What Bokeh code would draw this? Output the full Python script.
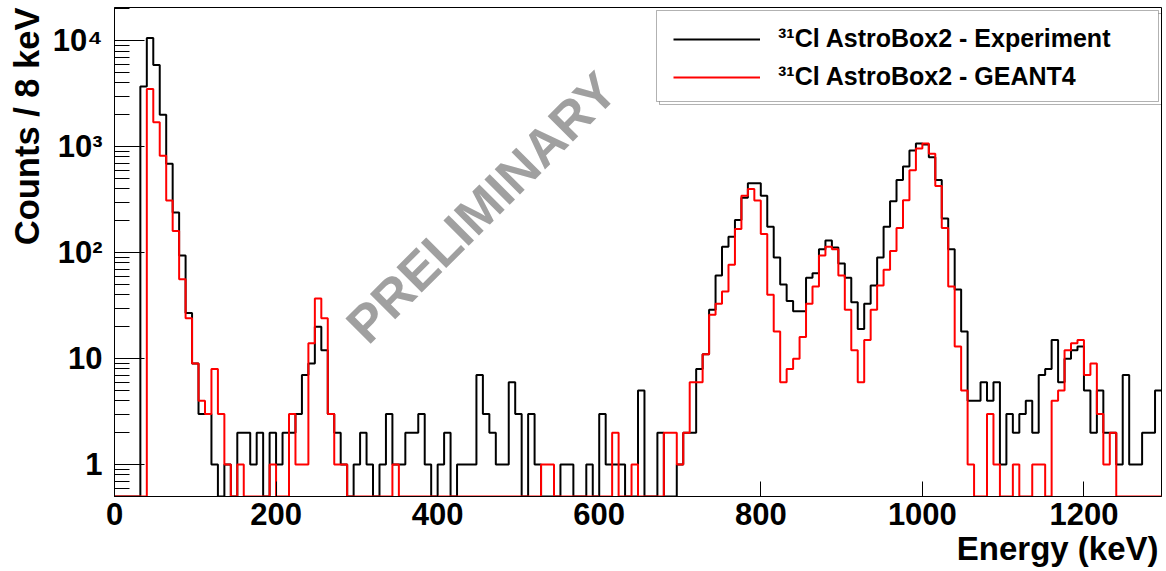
import numpy as np
from bokeh.plotting import figure
from bokeh.models import (FixedTicker, Label, Legend, LegendItem, BoxAnnotation, Range1d, Title)
from bokeh.embed import file_html
from bokeh.resources import INLINE

# ---------------- data ----------------
BIN_WIDTH = 8  # keV
X_MIN, X_MAX = 0, 1296
energy_edges = np.arange(X_MIN, X_MAX + BIN_WIDTH, BIN_WIDTH)

experiment = [0, 0, 0, 0, 3700, 10600, 5900, 2000, 690, 240,
              94, 27, 9, 3, 3, 1, 0, 1, 0, 2,
              2, 1, 2, 0, 2, 1, 2, 2, 3, 7,
              9, 20, 12, 3, 2, 1, 0, 1, 2, 1,
              0, 1, 3, 1, 1, 2, 2, 3, 1, 0,
              1, 2, 0, 1, 1, 1, 7, 3, 2, 1,
              1, 6, 3, 0, 3, 1, 0, 0, 0, 1,
              1, 0, 0, 1, 0, 3, 1, 1, 1, 0,
              0, 5, 0, 0, 2, 0, 0, 1, 2, 2,
              8, 11, 29, 61, 114, 141, 203, 330, 451, 451,
              345, 176, 90, 50, 35, 28, 28, 58, 64, 108,
              130, 112, 79, 58, 34, 19, 33, 49, 90, 176,
              305, 485, 650, 920, 1070, 1050, 795, 485, 210, 108,
              45, 18, 4, 4, 6, 4, 6, 1, 3, 2,
              3, 4, 2, 7, 8, 15, 6, 10, 12, 13,
              5, 2, 5, 2, 2, 1, 7, 1, 1, 2,
              2, 5]

geant4 = [0, 0, 0, 0, 0, 3500, 1700, 820, 310, 160,
          56, 24, 9, 4, 3, 8, 3, 1, 0, 1,
          0, 0, 0, 0, 1, 0, 0, 3, 1, 1,
          14, 37, 24, 3, 1, 1, 0, 0, 0, 0,
          0, 0, 0, 1, 0, 0, 0, 0, 0, 0,
          0, 0, 0, 0, 0, 0, 0, 0, 0, 0,
          0, 0, 0, 0, 0, 0, 1, 1, 0, 0,
          0, 0, 0, 0, 0, 0, 0, 2, 0, 0,
          1, 0, 0, 0, 0, 2, 2, 1, 2, 6,
          6, 11, 26, 33, 43, 77, 167, 345, 398, 310,
          150, 40, 18, 6, 8, 10, 16, 33, 48, 94,
          114, 108, 61, 29, 12, 6, 15, 29, 49, 69,
          104, 171, 312, 600, 960, 1075, 860, 425, 171, 48,
          13, 5, 1, 0, 0, 3, 1, 0, 0, 1,
          0, 0, 1, 1, 0, 4, 5, 12, 14, 15,
          7, 9, 3, 1, 2, 0, 0, 0, 0, 0,
          0, 0]

x_ticks = [0, 200, 400, 600, 800, 1000, 1200]
y_ticks = [1, 10, 100, 1000, 10000]
y_tick_labels = ["1", "10", "10\u00b2", "10\u00b3", "10\u2074"]

series_labels = ["\u00b3\u00b9Cl AstroBox2 - Experiment", "\u00b3\u00b9Cl AstroBox2 - GEANT4"]
x_title = "Energy (keV)"
y_title = "Counts / 8 keV"
watermark = "PRELIMINARY"

# ---------------- layout ----------------
Y_MIN, Y_MAX = 0.5, 2.06e4
W, H = 1166, 571
FRAME_L, FRAME_R, FRAME_T, FRAME_B = 114, 1161, 7, 496
FONT = "Liberation Sans"


def px_to_x(px):
    return X_MIN + (px - FRAME_L) / (FRAME_R - FRAME_L) * (X_MAX - X_MIN)


def py_to_y(py):
    lo, hi = np.log10(Y_MIN), np.log10(Y_MAX)
    return 10 ** (lo + (FRAME_B - py) / (FRAME_B - FRAME_T) * (hi - lo))


p = figure(width=W, height=H,
           x_range=Range1d(X_MIN, X_MAX), y_range=Range1d(Y_MIN, Y_MAX),
           y_axis_type="log", output_backend="svg", toolbar_location=None,
           min_border_left=FRAME_L, min_border_right=W - FRAME_R,
           min_border_top=FRAME_T, min_border_bottom=H - FRAME_B,
           background_fill_color="white", border_fill_color="white")
p.grid.visible = False
p.outline_line_color = "black"
p.outline_line_width = 1


def step_values(vals):
    v = np.array(vals, dtype=float)
    v[v <= 0] = Y_MIN  # empty bins drawn on the frame floor
    return np.append(v, v[-1])


r_exp = p.step(x=energy_edges, y=step_values(experiment), mode="after",
               line_color="black", line_width=2)
r_g4 = p.step(x=energy_edges, y=step_values(geant4), mode="after",
              line_color="#ff0000", line_width=2)

# axes
xa = p.xaxis[0]
xa.ticker = FixedTicker(ticks=x_ticks, minor_ticks=[])
xa.major_tick_in = 15
xa.major_tick_out = 0
xa.minor_tick_in = 0
xa.minor_tick_out = 0
xa.axis_line_color = "black"
xa.major_tick_line_color = "black"
xa.major_label_text_font = FONT
xa.major_label_text_font_style = "bold"
xa.major_label_text_font_size = "31px"
xa.major_label_text_color = "black"
xa.major_label_standoff = 6

minor = [m * 10.0 ** k for k in range(-1, 5) for m in range(2, 10)]
minor = [v for v in minor if Y_MIN <= v <= Y_MAX]
ya = p.yaxis[0]
ya.ticker = FixedTicker(ticks=y_ticks, minor_ticks=minor)
ya.major_label_overrides = {t: s for t, s in zip(y_ticks, y_tick_labels)}
ya.major_tick_in = 30
ya.major_tick_out = 0
ya.minor_tick_in = 15
ya.minor_tick_out = 0
ya.axis_line_color = "black"
ya.major_tick_line_color = "black"
ya.minor_tick_line_color = "black"
ya.major_label_text_font = FONT
ya.major_label_text_font_style = "bold"
ya.major_label_text_font_size = "31px"
ya.major_label_text_color = "black"
ya.major_label_standoff = 12

# axis titles (side-panel titles so they are not clipped by the frame)
p.add_layout(Title(text=x_title, align="right", offset=3, standoff=0,
                   text_font=FONT, text_font_style="bold", text_font_size="33px",
                   text_color="black"), "below")
p.add_layout(Title(text=y_title, align="right", offset=0, standoff=8,
                   text_font=FONT, text_font_style="bold", text_font_size="34.5px",
                   text_color="black"), "left")

# watermark
p.add_layout(Label(x=px_to_x(481), y=py_to_y(207), text=watermark, angle=np.pi / 4,
                   text_align="center", text_baseline="middle",
                   text_font=FONT, text_font_style="bold", text_font_size="52px",
                   text_color="#a0a0a0"))

# legend frame with offset shadow outline
p.add_layout(BoxAnnotation(left=px_to_x(659), right=px_to_x(1161),
                           top=py_to_y(13), bottom=py_to_y(104),
                           fill_alpha=0, line_color="black", line_width=1,
                           level="overlay"))
p.add_layout(BoxAnnotation(left=px_to_x(656), right=px_to_x(1158),
                           top=py_to_y(10), bottom=py_to_y(101),
                           fill_color="white", fill_alpha=1.0,
                           line_color="black", line_width=1, level="overlay"))

legend = Legend(items=[LegendItem(label=series_labels[0], renderers=[r_exp]),
                       LegendItem(label=series_labels[1], renderers=[r_g4])],
                location=(673 - 10 - FRAME_L, FRAME_B - 101),
                padding=10, spacing=9, margin=0,
                glyph_width=87, glyph_height=28, label_height=28,
                label_standoff=18, label_text_font=FONT,
                label_text_font_style="bold", label_text_font_size="25px",
                label_text_color="black",
                border_line_alpha=0, background_fill_alpha=0)
p.add_layout(legend)

open("out.html", "w").write(file_html(p, INLINE))
